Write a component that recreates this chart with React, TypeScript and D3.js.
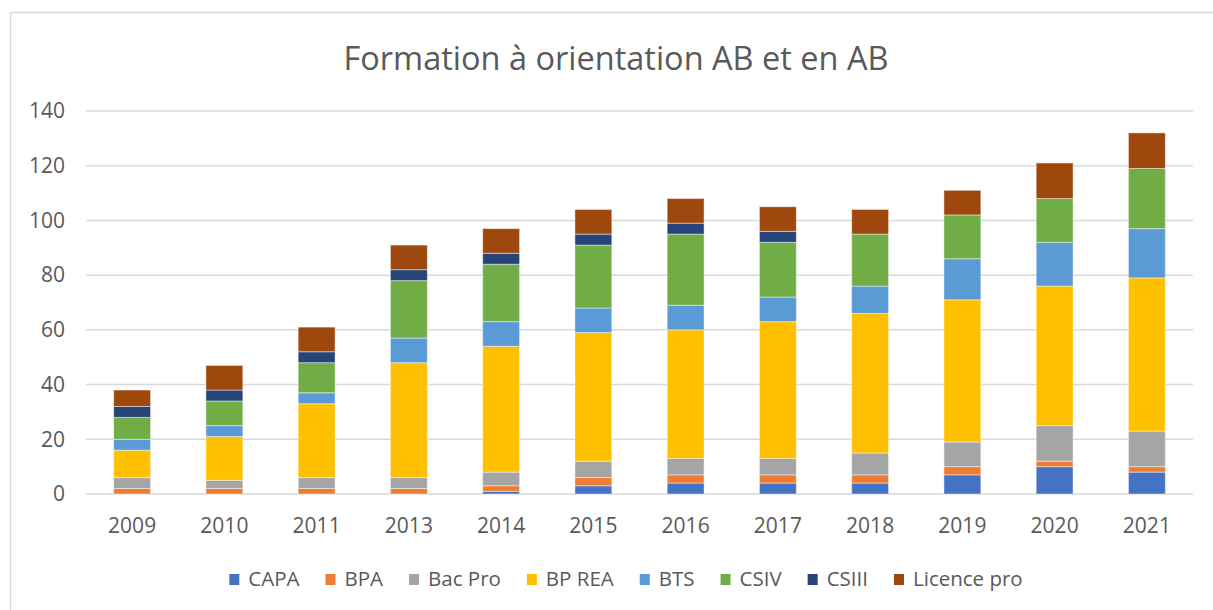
import React, { useRef, useEffect } from "react";
import * as d3 from "d3";

const years = ["2009", "2010", "2011", "2013", "2014", "2015", "2016", "2017", "2018", "2019", "2020", "2021"];
const seriesNames = ["CAPA", "BPA", "Bac Pro", "BP REA", "BTS", "CSIV", "CSIII", "Licence pro"];
const colors = ["#4472C4", "#ED7D31", "#A5A5A5", "#FFC000", "#5B9BD5", "#70AD47", "#264478", "#9E480E"];

const capa = [0, 0, 0, 0, 1, 3, 4, 4, 4, 7, 10, 8];
const bpa = [2, 2, 2, 2, 2, 3, 3, 3, 3, 3, 2, 2];
const bacPro = [4, 3, 4, 4, 5, 6, 6, 6, 8, 9, 13, 13];
const bpRea = [10, 16, 27, 42, 46, 47, 47, 50, 51, 52, 51, 56];
const bts = [4, 4, 4, 9, 9, 9, 9, 9, 10, 15, 16, 18];
const csiv = [8, 9, 11, 21, 21, 23, 26, 20, 19, 16, 16, 22];
const csiii = [4, 4, 4, 4, 4, 4, 4, 4, 0, 0, 0, 0];
const licencePro = [6, 9, 9, 9, 9, 9, 9, 9, 9, 9, 13, 13];

const yTicks = [0, 20, 40, 60, 80, 100, 120, 140];

const W = 1213;
const H = 610;
const FONT = "'Open Sans', sans-serif";

const App = () => {
  const ref = useRef<SVGSVGElement>(null);

  useEffect(() => {
    const svg = d3.select(ref.current);
    svg.selectAll("*").remove();

    const allSeries = [capa, bpa, bacPro, bpRea, bts, csiv, csiii, licencePro];
    const rows = years.map((y, i) => {
      const r: any = { year: y };
      seriesNames.forEach((s, k) => (r[s] = allSeries[k][i]));
      return r;
    });
    const stacked = d3.stack().keys(seriesNames)(rows);

    const x = d3.scaleBand().domain(years).range([86, 1193]).paddingInner(0.6).paddingOuter(0.3);
    const y = d3.scaleLinear().domain([0, 140]).range([494, 111]);

    // outer border (chart area is cropped on right/bottom)
    svg
      .append("rect")
      .attr("x", 10.5)
      .attr("y", 12.5)
      .attr("width", 1400)
      .attr("height", 800)
      .attr("fill", "#fff")
      .attr("stroke", "#D9D9D9")
      .attr("stroke-width", 1.5);

    // title
    svg
      .append("text")
      .attr("x", 616)
      .attr("y", 70)
      .attr("text-anchor", "middle")
      .attr("font-family", FONT)
      .attr("font-size", 32.5)
      .attr("fill", "#595959")
      .text("Formation à orientation AB et en AB");

    // gridlines + y labels
    const grid = svg.append("g");
    yTicks.forEach((t) => {
      grid
        .append("line")
        .attr("x1", 86)
        .attr("x2", 1193)
        .attr("y1", y(t))
        .attr("y2", y(t))
        .attr("stroke", "#D9D9D9")
        .attr("stroke-width", 1.5);
      grid
        .append("text")
        .attr("x", 65)
        .attr("y", y(t))
        .attr("dy", "0.35em")
        .attr("text-anchor", "end")
        .attr("font-family", FONT)
        .attr("font-size", 21)
        .attr("fill", "#595959")
        .text(t);
    });

    // bars
    svg
      .append("g")
      .selectAll("g")
      .data(stacked)
      .enter()
      .append("g")
      .attr("fill", (d, i) => colors[i])
      .selectAll("rect")
      .data((d) => d.filter((p) => p[1] - p[0] > 0))
      .enter()
      .append("rect")
      .attr("x", (d: any) => x(d.data.year)!)
      .attr("width", x.bandwidth())
      .attr("y", (d) => y(d[1]))
      .attr("height", (d) => y(d[0]) - y(d[1]))
      .attr("stroke", "#fff")
      .attr("stroke-opacity", 0.45)
      .attr("stroke-width", 1);

    // x labels
    svg
      .append("g")
      .selectAll("text")
      .data(years)
      .enter()
      .append("text")
      .attr("x", (d) => x(d)! + x.bandwidth() / 2)
      .attr("y", 533)
      .attr("text-anchor", "middle")
      .attr("font-family", FONT)
      .attr("font-size", 21)
      .attr("fill", "#595959")
      .text((d) => d);

    // legend - measure then center
    const legend = svg.append("g");
    const items = seriesNames.map((name, i) => {
      const g = legend.append("g");
      g.append("rect").attr("width", 10).attr("height", 11).attr("y", -12).attr("fill", colors[i]);
      const t = g
        .append("text")
        .attr("x", 19)
        .attr("y", 0)
        .attr("font-family", FONT)
        .attr("font-size", 20.5)
        .attr("fill", "#595959")
        .text(name);
      const w = (t.node() as SVGTextElement).getComputedTextLength();
      return { g, w: 19 + w };
    });
    const gap = 26;
    const total = d3.sum(items, (d) => d.w) + gap * (items.length - 1);
    let cx = 626 - total / 2;
    items.forEach((it) => {
      it.g.attr("transform", `translate(${cx},586)`);
      cx += it.w + gap;
    });
  }, []);

  return (
    <div>
      <svg ref={ref} width={W} height={H} style={{ position: "absolute", left: 0, top: 0 }}></svg>
    </div>
  );
};

export default App;
